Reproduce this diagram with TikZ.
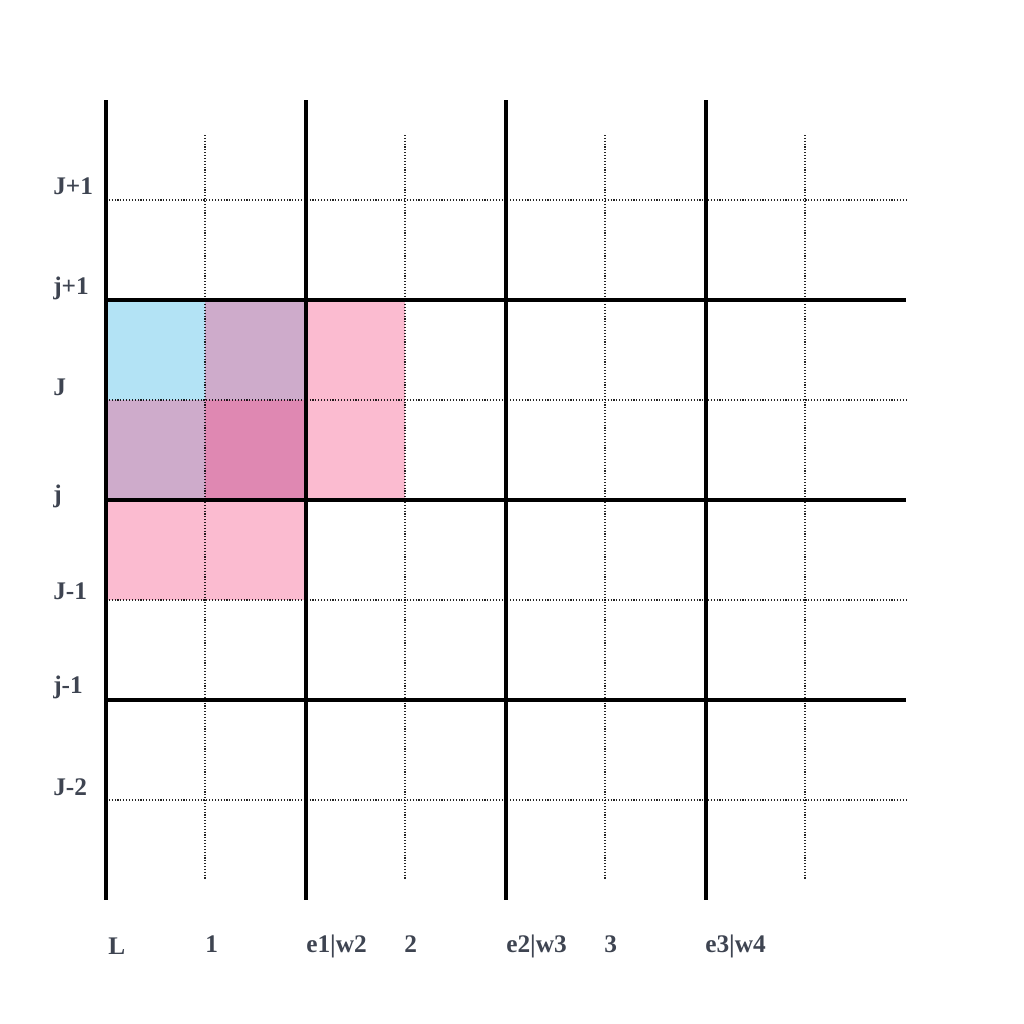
\documentclass[tikz,border=0pt]{standalone}
\usepackage{fontspec}
\setmainfont{Liberation Serif}
\definecolor{cblue}{HTML}{B3E3F5}
\definecolor{cpurple}{HTML}{CEABCB}
\definecolor{cdpink}{HTML}{DF88B2}
\definecolor{cpink}{HTML}{FBBBD0}
\definecolor{ctext}{HTML}{3E4451}
\begin{document}
\begin{tikzpicture}[x=0.75pt,y=-0.75pt,
  thickline/.style={line width=2.3pt,black},
  dotline/.style={line width=0.85pt,black,opacity=0.85,dash pattern=on 0.85pt off 1.3pt},
  lbl/.style={font=\fontsize{19pt}{21pt}\selectfont\bfseries,text=ctext,inner sep=0pt,anchor=base west}]
\useasboundingbox (0,0) rectangle (1024,1024);
% fills
\fill[cblue] (106,300) rectangle (205,400);
\fill[cpurple] (205,300) rectangle (306,400);
\fill[cpurple] (106,400) rectangle (205,500);
\fill[cdpink] (205,400) rectangle (306,500);
\fill[cpink] (306,300) rectangle (405,500);
\fill[cpink] (106,500) rectangle (306,600);
% dotted lines
\foreach \x in {205,405,605,805} \draw[dotline] (\x,135) -- (\x,880);
\foreach \y in {200,400,600,800} \draw[dotline] (106,\y) -- (906,\y);
% thick lines
\foreach \x in {106,306,506,706} \draw[thickline] (\x,100) -- (\x,900);
\foreach \y in {300,500,700} \draw[thickline] (106,\y) -- (906,\y);
% left labels
\node[lbl] (l1) at (53,194) {J+1};
\node[lbl] (l2) at (53,294) {j+1};
\node[lbl] (l3) at (53,395) {J};
\node[lbl] (l4) at (53,502) {j};
\node[lbl] (l5) at (53,599) {J-1};
\node[lbl] (l6) at (53,693) {j-1};
\node[lbl] (l7) at (53,795) {J-2};
% bottom labels
\node[lbl] (b1) at (108,954) {L};
\node[lbl] (b2) at (205,952) {1};
\node[lbl] (b3) at (306,952) {e1|w2};
\node[lbl] (b4) at (404,952) {2};
\node[lbl] (b5) at (506,952) {e2|w3};
\node[lbl] (b6) at (604,952) {3};
\node[lbl] (b7) at (705,952) {e3|w4};
\end{tikzpicture}
\end{document}
